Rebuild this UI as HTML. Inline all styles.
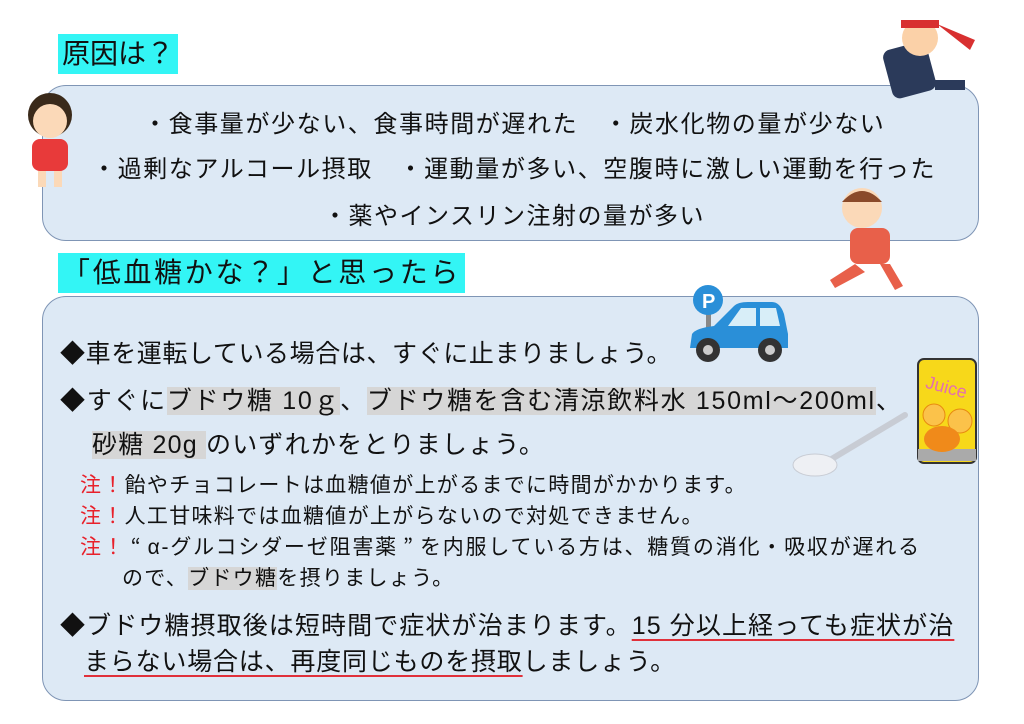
<!DOCTYPE html>
<html><head><meta charset="utf-8"><style>
body{margin:0;width:1024px;height:724px;background:#fff;position:relative;overflow:hidden;font-family:"Liberation Sans","Noto Sans CJK JP",sans-serif;color:#111}
.abs{position:absolute;white-space:nowrap}
.box{position:absolute;background:#dde9f5;border:1.5px solid #7f95b5;border-radius:24px}
.h{position:absolute;background:#33f5f5;font-size:28px;line-height:40px;padding:0 4px}
.hl{background:#d6d6d6}
.r{color:#e8202a}
.j{font-family:"Noto Sans CJK JP",sans-serif;display:inline-block;width:22px;text-align:center}
.u{text-decoration:underline;text-decoration-color:#e0303a;text-underline-offset:5px;text-decoration-thickness:2px}
</style></head><body>
<div class="h" style="left:58px;top:34px;">原因は？</div>
<div class="box" style="left:42px;top:85px;width:935px;height:154px"></div>
<div class="abs" style="left:143px;top:104px;font-size:24px;letter-spacing:1.6px">・食事量が少ない、食事時間が遅れた　・炭水化物の量が少ない</div>
<div class="abs" style="left:92px;top:149px;font-size:24px;letter-spacing:1.6px">・過剰なアルコール摂取　・運動量が多い、空腹時に激しい運動を行った</div>
<div class="abs" style="left:323px;top:196px;font-size:24px;letter-spacing:1.5px">・薬やインスリン注射の量が多い</div>

<div class="h" style="left:58px;top:253px;letter-spacing:2.7px">「低血糖かな？」と思ったら</div>
<div class="box" style="left:42px;top:296px;width:935px;height:403px"></div>
<div class="abs" style="left:60px;top:334px;font-size:25px;letter-spacing:0.6px">◆車を運転している場合は、すぐに止まりましょう。</div>
<div class="abs" style="left:60px;top:381px;font-size:25px;letter-spacing:1.7px">◆すぐに<span class="hl">ブドウ糖 10ｇ</span>、<span class="hl">ブドウ糖を含む清涼飲料水 150ml～200ml</span>、</div>
<div class="abs" style="left:92px;top:425px;font-size:25px;letter-spacing:1.2px"><span class="hl">砂糖 20g </span>のいずれかをとりましょう。</div>
<div class="abs" style="left:80px;top:469px;font-size:21px;letter-spacing:1.3px"><span class="r">注！</span>飴やチョコレートは血糖値が上がるまでに時間がかかります。</div>
<div class="abs" style="left:80px;top:500px;font-size:21px;letter-spacing:1.3px"><span class="r">注！</span>人工甘味料では血糖値が上がらないので対処できません。</div>
<div class="abs" style="left:80px;top:531px;font-size:21px;letter-spacing:1.8px"><span class="r">注！</span><span class="j">“</span>α-グルコシダーゼ阻害薬<span class="j">”</span>を内服している方は、糖質の消化・吸収が遅れる</div>
<div class="abs" style="left:122px;top:562px;font-size:21px;letter-spacing:1.3px">ので、<span class="hl">ブドウ糖</span>を摂りましょう。</div>
<div class="abs" style="left:60px;top:606px;font-size:25px;letter-spacing:1.1px">◆ブドウ糖摂取後は短時間で症状が治まります。<span class="u">15 分以上経っても症状が治</span></div>
<div class="abs" style="left:84px;top:642px;font-size:25px;letter-spacing:0.8px"><span class="u">まらない場合は、再度同じものを摂取</span>しましょう。</div>

<!-- car -->
<svg class="abs" style="left:686px;top:284px" width="110" height="82">
<rect x="20" y="18" width="5" height="30" fill="#888"/>
<circle cx="22" cy="16" r="15" fill="#2a8fd8"/><text x="16" y="24" font-size="20" font-weight="bold" fill="#fff" font-family="Liberation Sans">P</text>
<path d="M4 64 L6 50 Q10 44 28 42 L48 22 Q52 18 62 18 L86 18 Q94 18 98 30 L102 50 L102 64 Z" fill="#2a8fd8"/>
<path d="M42 42 L55 24 L70 24 L70 42 Z M74 24 L90 24 L94 42 L74 42Z" fill="#d8eef8"/>
<circle cx="22" cy="66" r="12" fill="#333"/><circle cx="22" cy="66" r="5" fill="#ccc"/>
<circle cx="84" cy="66" r="12" fill="#333"/><circle cx="84" cy="66" r="5" fill="#ccc"/>
</svg>
<!-- juice -->
<svg class="abs" style="left:916px;top:355px" width="64" height="112">
<rect x="2" y="4" width="58" height="104" rx="6" fill="#f7d81a" stroke="#333" stroke-width="2"/>
<rect x="2" y="94" width="58" height="12" fill="#aaa"/>
<text x="10" y="38" font-size="18" fill="#e46fb0" font-family="Liberation Sans" transform="rotate(15 30 30)">Juice</text>
<circle cx="18" cy="60" r="11" fill="#fbc24a" stroke="#e88a10"/><circle cx="44" cy="66" r="12" fill="#fbc24a" stroke="#e88a10"/>
<ellipse cx="26" cy="84" rx="18" ry="13" fill="#f08a1a"/>
</svg>
<!-- spoon -->
<svg class="abs" style="left:790px;top:410px" width="120" height="70">
<line x1="40" y1="50" x2="115" y2="5" stroke="#c8ccd4" stroke-width="6" stroke-linecap="round"/>
<ellipse cx="25" cy="55" rx="22" ry="11" fill="#eef0f4" stroke="#c8ccd4"/>
</svg>
<!-- people -->
<svg class="abs" style="left:20px;top:85px" width="60" height="105">
<circle cx="30" cy="30" r="22" fill="#3a2a1a"/><circle cx="30" cy="36" r="17" fill="#fbd9b8"/>
<rect x="12" y="54" width="36" height="32" rx="8" fill="#e83a3a"/>
<rect x="18" y="86" width="8" height="16" fill="#fbd9b8"/><rect x="34" y="86" width="8" height="16" fill="#fbd9b8"/>
</svg>
<svg class="abs" style="left:865px;top:10px" width="120" height="100">
<rect x="22" y="35" width="45" height="50" rx="8" fill="#2b3a5a" transform="rotate(-15 45 60)"/>
<circle cx="55" cy="28" r="18" fill="#fbd1a8"/><rect x="36" y="10" width="38" height="8" fill="#d83030"/>
<path d="M72 14 L110 30 L105 40 Z" fill="#d83030"/>
<rect x="70" y="70" width="30" height="10" fill="#2b3a5a"/>
</svg>
<svg class="abs" style="left:810px;top:180px" width="100" height="115">
<circle cx="52" cy="28" r="20" fill="#fbd9b8"/><path d="M32 22 Q52 0 72 22Z" fill="#8a4a2a"/>
<rect x="40" y="48" width="40" height="36" rx="8" fill="#e8604a"/>
<path d="M45 84 L20 100 L25 108 L55 92Z M70 84 L85 110 L93 106 L80 84Z" fill="#e8604a"/>
</svg>
</body></html>
